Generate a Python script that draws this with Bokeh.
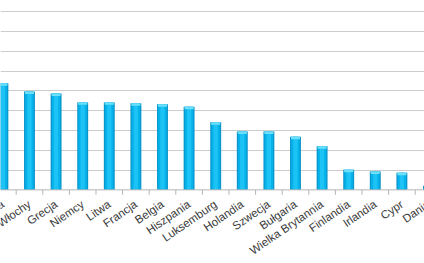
from bokeh.plotting import figure
from bokeh.models import Range1d, FixedTicker, Span
from bokeh.core.properties import value
from bokeh.embed import file_html
from bokeh.resources import INLINE

categories = ["Polska", "Włochy", "Grecja", "Niemcy", "Litwa", "Francja", "Belgia",
              "Hiszpania", "Luksemburg", "Holandia", "Szwecja", "Bułgaria",
              "Wielka Brytannia", "Finlandia", "Irlandia", "Cypr", "Dania"]
values = [5.38, 4.96, 4.86, 4.41, 4.41, 4.37, 4.32, 4.19, 3.41, 2.94, 2.94, 2.68,
          2.20, 1.01, 0.92, 0.86, 0.20]
grid_values = [1, 2, 3, 4, 5, 6, 7, 8, 9]

xs = list(range(len(categories)))

p = figure(width=424, height=263, output_backend="svg",
           toolbar_location=None, y_axis_location=None, x_axis_location=None,
           x_range=Range1d(-0.09, 15.85), y_range=Range1d(-3.72, 9.56),
           min_border_left=0, min_border_right=0, min_border_top=0, min_border_bottom=0)
p.outline_line_color = None
p.background_fill_color = "white"
p.border_fill_color = "white"

p.xgrid.visible = False
p.ygrid.ticker = FixedTicker(ticks=grid_values)
p.ygrid.grid_line_color = "#cccccc"
p.ygrid.grid_line_width = 1.2

# bars: outer darker, inner lighter, center highlight
p.vbar(x=xs, top=values, bottom=0, width=0.41, fill_color="#0a94cc", line_color=None)
p.vbar(x=xs, top=values, bottom=0, width=0.32, fill_color="#05b2ea", line_color=None)
p.vbar(x=xs, top=values, bottom=0, width=0.16, fill_color="#1ec3f5", line_color=None)
# top cap highlight
caps = [v - 0.12 if v > 0.15 else v * 0.3 for v in values]
p.vbar(x=xs, top=values, bottom=caps, width=0.34, fill_color="#6ddff8", line_color=None)

# category axis: baseline and boundary ticks
p.add_layout(Span(location=0, dimension="width", line_color="#b5b5b5", line_width=1))
bounds = [x - 0.5 for x in xs] + [xs[-1] + 0.5]
p.segment(x0=bounds, y0=[0] * len(bounds), x1=bounds, y1=[-0.25] * len(bounds),
          line_color="#b5b5b5", line_width=1)

# rotated category labels
p.text(x=[x + 0.0 for x in xs], y=[-0.66] * len(xs), text=categories, angle=0.6,
       text_align="right", text_baseline="middle",
       text_font=value("Liberation Sans"), text_font_size="11.5px",
       text_color="#3a3a3a")

open("out.html", "w").write(file_html(p, INLINE))
